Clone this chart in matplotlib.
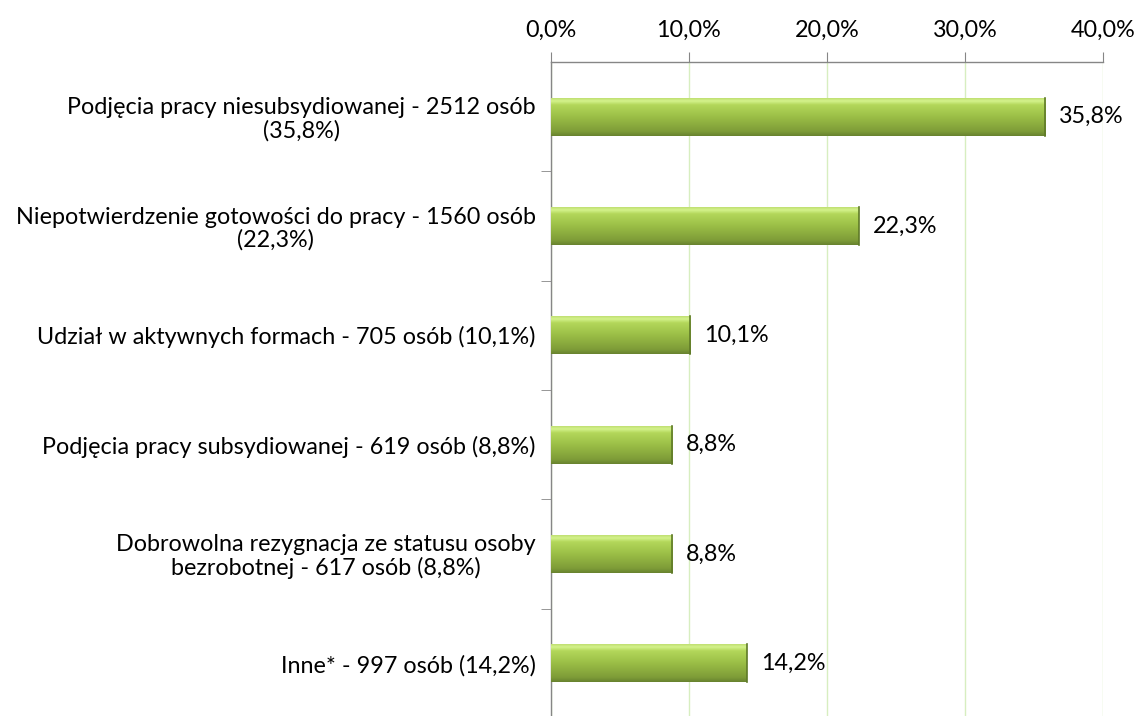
import matplotlib
matplotlib.use("Agg")
import matplotlib.pyplot as plt
import numpy as np
from matplotlib.colors import LinearSegmentedColormap
from matplotlib.ticker import MultipleLocator, FuncFormatter

categories = [
    "Podjęcia pracy niesubsydiowanej - 2512 osób\n(35,8%)",
    "Niepotwierdzenie gotowości do pracy - 1560 osób\n(22,3%)",
    "Udział w aktywnych formach - 705 osób (10,1%)",
    "Podjęcia pracy subsydiowanej - 619 osób (8,8%)",
    "Dobrowolna rezygnacja ze statusu osoby\nbezrobotnej - 617 osób (8,8%)",
    "Inne* - 997 osób (14,2%)",
]
values = [35.8, 22.3, 10.1, 8.8, 8.8, 14.2]
xticks = [0, 10, 20, 30, 40]

plt.rcParams['font.family'] = ['Lato', 'DejaVu Sans']
FS = 16.8

fig = plt.figure(figsize=(11.36, 7.16), dpi=100)
ax = fig.add_axes([551/1136, 1 - 718/716, (1103-551)/1136, (718-62)/716])

y = np.arange(len(categories))
bars = ax.barh(y, values, height=0.35, color='none', edgecolor='none', zorder=3)

cmap = LinearSegmentedColormap.from_list('g', [
    (0.0, '#67822e'), (0.12, '#7e9c38'), (0.5, '#9bbf47'),
    (0.8, '#b3d75a'), (0.9, '#d4f28c'), (1.0, '#b9d868')])
grad = np.linspace(0, 1, 256).reshape(-1, 1)
for b in bars:
    x0, y0, w, h = b.get_x(), b.get_y(), b.get_width(), b.get_height()
    im = ax.imshow(grad, extent=(x0, x0 + w, y0 + h, y0), origin='lower',
                   aspect='auto', cmap=cmap, zorder=3, interpolation='bilinear')
    im.set_clip_path(b)
    ax.plot([x0 + w, x0 + w], [y0, y0 + h], color='#5f7a28', lw=1.2, zorder=4)

ax.set_xlim(xticks[0], xticks[-1])
ax.set_ylim(len(categories) - 0.5, -0.5)
ax.set_xticks(xticks)
ax.xaxis.tick_top()
ax.xaxis.set_major_formatter(FuncFormatter(lambda v, p: f"{v:.1f}%".replace('.', ',')))
ax.tick_params(axis='x', direction='out', length=7, color='#868686', labelsize=FS, pad=8,
               labelcolor='black')
ax.set_yticks(y)
ax.set_yticklabels(categories, fontsize=FS, multialignment='center', linespacing=1.1)
ax.set_yticks(np.arange(len(categories)) + 0.5, minor=True)
ax.tick_params(axis='y', which='major', length=0, pad=11)
ax.tick_params(axis='y', which='minor', length=7, direction='out', color='#868686')

for s in ['right', 'bottom']:
    ax.spines[s].set_visible(False)
for s in ['top', 'left']:
    ax.spines[s].set_color('#868686')
    ax.spines[s].set_linewidth(1)

ax.grid(axis='x', color='#d7eec0', lw=1, zorder=0)
ax.set_axisbelow(True)

for yi, v in zip(y, values):
    ax.annotate(f"{v:.1f}%".replace('.', ','), (v, yi), xytext=(10, 0),
                textcoords='offset points', va='center', ha='left', fontsize=FS)

fig.savefig('out.png', dpi=100)
